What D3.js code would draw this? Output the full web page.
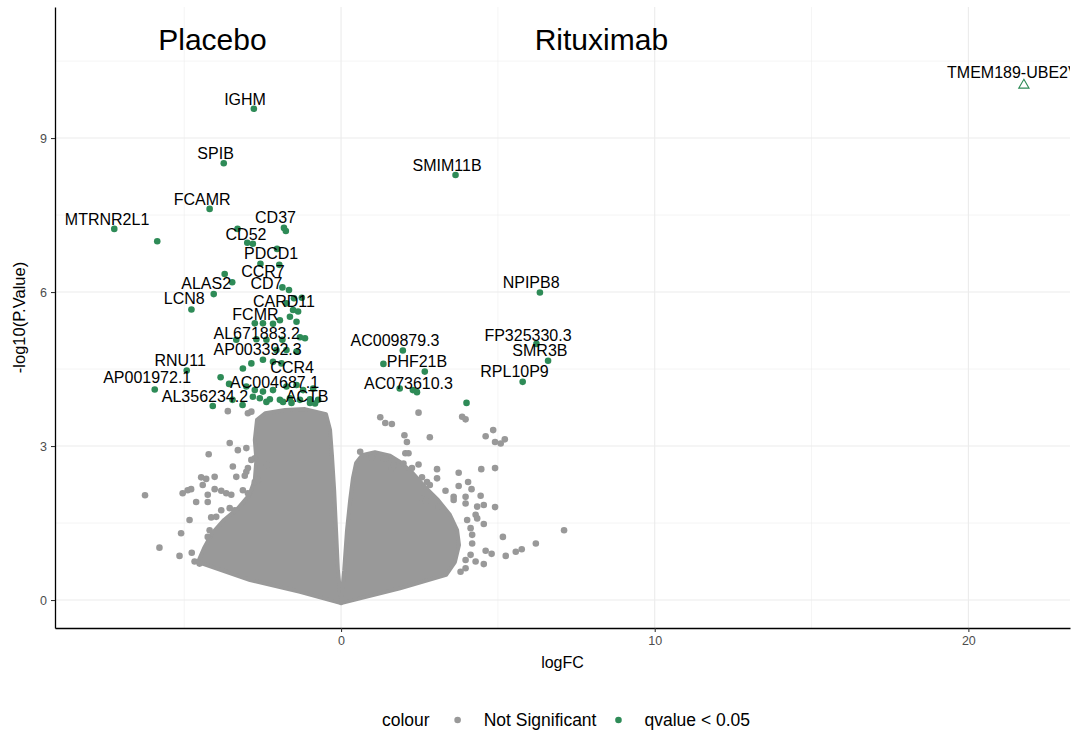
<!DOCTYPE html>
<html>
<head>
<meta charset="utf-8">
<script src="https://cdn.jsdelivr.net/npm/d3@7"></script>
<style>
  html, body { margin: 0; padding: 0; background: #ffffff; }
  svg { display: block; font-family: "Liberation Sans", Arial, Helvetica, sans-serif; }
</style>
</head>
<body>
<svg id="chart" width="1076" height="734"></svg>
<script>
// ---- axis ticks ----
const xTicks = [0, 10, 20];
const yTicks = [0, 3, 6, 9];
const xMinorTicks = [-5, 5, 15];
const yMinorTicks = [1.5, 4.5, 7.5, 10.5];

// ---- legend groups ----
const groupNames = ["Not Significant", "qvalue < 0.05"];
const groupColours = ["#999999", "#2E8B57"];

// ---- panel annotations: [text, logFC, -log10 p] ----
const armTitles = [["Placebo", -4.1, 11], ["Rituximab", 8.3, 11]];

// ---- significant, labelled genes: [gene, logFC, -log10 p] ----
const labelledGenes = [
  ["IGHM", -2.78, 9.57], ["SPIB", -3.74, 8.51], ["FCAMR", -4.19, 7.62],
  ["MTRNR2L1", -7.23, 7.23], ["CD37", -1.82, 7.25], ["CD52", -3.30, 7.23],
  ["PDCD1", -2.04, 6.84], ["CCR7", -1.97, 6.53], ["CD7", -1.87, 6.09],
  ["ALAS2", -3.47, 6.19], ["LCN8", -4.77, 5.66], ["CARD11", -1.25, 5.89],
  ["FCMR", -2.49, 5.39], ["AL671883.2", -2.38, 5.07], ["AP003392.3", -2.06, 4.87],
  ["RNU11", -4.92, 4.47], ["CCR4", -1.74, 4.16], ["AP001972.1", -5.94, 4.10],
  ["AC004687.1", -2.17, 4.09], ["AL356234.2", -4.09, 3.78], ["ACTB", -0.83, 3.83],
  ["SMIM11B", 3.65, 8.28], ["NPIPB8", 6.34, 5.99], ["FP325330.3", 6.23, 4.99],
  ["SMR3B", 6.60, 4.66], ["RPL10P9", 5.79, 4.25], ["AC009879.3", 1.97, 4.86],
  ["PHF21B", 2.67, 4.45], ["AC073610.3", 1.87, 4.12]
];

// repelled label anchors (text centre logFC, baseline -log10 p), same order
const labelAnchors = [
  [-3.06, 9.64], [-4.00, 8.59], [-4.43, 7.69],
  [-7.46, 7.31], [-2.09, 7.34], [-3.03, 7.01],
  [-2.23, 6.64], [-2.49, 6.30], [-2.38, 6.05],
  [-4.30, 6.05], [-5.00, 5.76], [-1.82, 5.71],
  [-2.73, 5.45], [-2.69, 5.08], [-2.66, 4.77],
  [-5.13, 4.55], [-1.56, 4.42], [-6.18, 4.22],
  [-2.12, 4.14], [-4.34, 3.86], [-1.08, 3.86],
  [3.38, 8.36], [6.06, 6.07], [5.96, 5.05],
  [6.34, 4.75], [5.53, 4.34], [1.72, 4.95],
  [2.42, 4.53], [2.15, 4.12]
];

// gene whose value lies beyond the usual range, drawn as an open triangle
const cappedGenes = [["TMEM189-UBE2V1", 21.77, 10.03]];
const cappedAnchors = [[21.56, 10.17]];

// ---- significant genes without a label: [logFC, -log10 p] ----
const sigUnlabelled = [
  [-5.86, 6.99], [-1.76, 7.19], [-2.99, 6.96], [-2.81, 6.94], [-2.57, 6.55],
  [-3.71, 6.35], [-4.06, 5.96], [-1.74, 5.78], [-1.53, 5.65], [-1.37, 5.62],
  [-1.63, 5.52], [-1.42, 5.42], [-2.75, 5.39], [-2.17, 5.38], [-1.95, 5.45],
  [-3.34, 5.07], [-2.70, 5.08], [-1.87, 5.07], [-1.31, 5.12], [-1.15, 5.10],
  [-1.74, 4.87], [-1.42, 4.84], [-2.49, 4.68], [-2.17, 4.64], [-1.90, 4.61],
  [-2.86, 4.61], [-3.13, 4.51], [-3.84, 4.34], [-3.57, 4.21], [-3.02, 4.16],
  [-2.75, 4.09], [-2.49, 4.06], [-1.42, 4.19], [-1.21, 4.09], [-0.89, 4.12],
  [-2.81, 3.96], [-2.59, 3.93], [-2.27, 3.91], [-1.95, 3.90], [-1.63, 3.93],
  [-1.31, 3.90], [-0.99, 3.91], [-0.73, 3.90], [-3.46, 3.90], [-3.14, 3.80],
  [-2.38, 3.86], [-1.85, 3.86], [-1.58, 3.84], [-0.99, 3.84], [-1.50, 5.88],
  [-1.66, 6.04], [1.35, 4.60], [2.29, 4.09], [2.42, 4.05], [4.00, 3.84]
];

// ---- dense body of non-significant genes, outlined as [logFC, -log10 p] ----
const nsCoreDown = [
  [0.00, -0.06], [-0.10, 0.58], [-0.16, 1.36], [-0.22, 2.14], [-0.29, 2.82],
  [-0.35, 3.31], [-0.48, 3.62], [-1.15, 3.72], [-1.79, 3.70], [-2.42, 3.64],
  [-2.68, 3.51], [-2.75, 3.12], [-2.70, 2.73], [-2.75, 2.34], [-2.92, 2.05],
  [-3.28, 1.79], [-3.73, 1.56], [-4.11, 1.30], [-4.37, 1.01], [-4.56, 0.74],
  [-2.90, 0.39], [-1.31, 0.16]
];
const nsCoreUp = [
  [0.00, -0.06], [0.10, 0.58], [0.19, 1.36], [0.29, 1.95], [0.38, 2.38],
  [0.48, 2.67], [0.67, 2.82], [1.08, 2.88], [1.56, 2.81], [1.88, 2.69],
  [2.26, 2.49], [2.68, 2.20], [3.09, 1.95], [3.47, 1.66], [3.70, 1.36],
  [3.76, 1.07], [3.63, 0.74], [3.35, 0.49], [1.88, 0.23]
];

// ---- scattered non-significant genes: [logFC, -log10 p] ----
const nsScattered = [
  [-3.61, 3.68], [-2.97, 3.64], [-2.86, 3.67], [-3.55, 3.06], [-3.29, 2.92],
  [-3.02, 2.96], [-4.22, 2.84], [-2.75, 2.76], [-2.86, 2.73], [-2.38, 2.63],
  [-2.97, 2.57], [-3.02, 2.50], [-3.45, 2.60], [-4.46, 2.39], [-4.30, 2.36],
  [-4.03, 2.40], [-3.34, 2.40], [-3.07, 2.42], [-2.75, 2.30], [-2.65, 2.34],
  [-4.41, 2.24], [-4.03, 2.16], [-3.82, 2.13], [-3.66, 2.08], [-3.50, 2.05],
  [-5.05, 2.08], [-4.89, 2.14], [-4.78, 2.16], [-6.25, 2.04], [-4.62, 1.91],
  [-4.25, 2.05], [-4.25, 1.91], [-3.13, 2.14], [-2.97, 2.08], [-3.82, 1.75],
  [-3.55, 1.79], [-3.39, 1.75], [-4.83, 1.56], [-4.14, 1.61], [-3.98, 1.62],
  [-5.10, 1.30], [-4.19, 1.36], [-4.25, 1.23], [-5.79, 1.02], [-5.15, 0.86],
  [-4.76, 0.92], [-4.67, 0.75], [-4.51, 0.71],
  [1.25, 3.56], [1.41, 3.45], [1.62, 3.43], [2.47, 3.65], [3.86, 3.57],
  [3.97, 3.52], [2.02, 3.21], [2.10, 3.08], [2.83, 3.17], [4.61, 3.19],
  [4.85, 3.31], [4.91, 3.08], [5.09, 3.05], [5.22, 3.13], [0.61, 2.89],
  [0.98, 2.78], [1.35, 2.76], [1.41, 2.75], [2.05, 2.86], [2.15, 2.86],
  [1.99, 2.66], [2.26, 2.57], [2.47, 2.64], [1.62, 2.57], [1.67, 2.63],
  [3.06, 2.55], [3.06, 2.37], [3.75, 2.48], [4.47, 2.55], [4.91, 2.57],
  [2.58, 2.39], [2.74, 2.30], [2.83, 2.24], [4.05, 2.30], [4.16, 2.16],
  [3.75, 2.22], [3.33, 2.13], [3.59, 2.01], [3.59, 1.95], [2.58, 1.98],
  [2.69, 1.93], [3.97, 2.01], [3.97, 1.88], [4.45, 2.03], [4.34, 1.82],
  [4.55, 1.85], [4.91, 1.81], [3.11, 1.82], [4.29, 1.66], [4.34, 1.59],
  [4.55, 1.48], [4.02, 1.56], [4.13, 1.40], [7.11, 1.36], [5.16, 1.23],
  [6.21, 1.10], [4.18, 1.27], [4.18, 1.10], [4.61, 0.96], [4.80, 0.90],
  [5.76, 0.99], [5.57, 0.94], [5.25, 0.86], [4.13, 0.88], [3.97, 0.78],
  [4.29, 0.75], [4.55, 0.70], [3.97, 0.62], [3.81, 0.55]
];

// ---- layout ----
const W = 1076, H = 734;
const panel = { left: 55, right: 1070, top: 7, bottom: 628 };
const svg = d3.select("#chart");

const x = d3.scaleLinear().domain([-9.12, 23.24]).range([panel.left, panel.right]);
const y = d3.scaleLinear().domain([-0.545, 11.553]).range([panel.bottom, panel.top]);
const colour = d3.scaleOrdinal().domain(groupNames).range(groupColours);

svg.append("rect").attr("width", W).attr("height", H).attr("fill", "#ffffff");

svg.append("defs").append("clipPath").attr("id", "panel-clip")
  .append("rect")
  .attr("x", panel.left).attr("y", panel.top)
  .attr("width", panel.right - panel.left).attr("height", panel.bottom - panel.top);

// grid
const grid = svg.append("g").attr("class", "grid");
grid.selectAll("line.xminor").data(xMinorTicks).join("line")
  .attr("x1", d => x(d)).attr("x2", d => x(d))
  .attr("y1", panel.top).attr("y2", panel.bottom)
  .attr("stroke", "#ebebeb").attr("stroke-width", 0.55);
grid.selectAll("line.yminor").data(yMinorTicks).join("line")
  .attr("y1", d => y(d)).attr("y2", d => y(d))
  .attr("x1", panel.left).attr("x2", panel.right)
  .attr("stroke", "#ebebeb").attr("stroke-width", 0.55);
grid.selectAll("line.xmajor").data(xTicks).join("line")
  .attr("x1", d => x(d)).attr("x2", d => x(d))
  .attr("y1", panel.top).attr("y2", panel.bottom)
  .attr("stroke", "#ebebeb").attr("stroke-width", 1.07);
grid.selectAll("line.ymajor").data(yTicks).join("line")
  .attr("y1", d => y(d)).attr("y2", d => y(d))
  .attr("x1", panel.left).attr("x2", panel.right)
  .attr("stroke", "#ebebeb").attr("stroke-width", 1.07);

const plot = svg.append("g").attr("clip-path", "url(#panel-clip)");

// dense non-significant body
const outline = d3.line().x(d => x(d[0])).y(d => y(d[1])).curve(d3.curveLinearClosed);
plot.selectAll("path.core").data([nsCoreDown, nsCoreUp]).join("path")
  .attr("class", "core")
  .attr("d", outline)
  .attr("fill", colour(groupNames[0]))
  .attr("stroke", colour(groupNames[0]))
  .attr("stroke-width", 4)
  .attr("stroke-linejoin", "round");

const R = 3.3;
plot.selectAll("circle.ns").data(nsScattered).join("circle")
  .attr("class", "ns")
  .attr("cx", d => x(d[0])).attr("cy", d => y(d[1])).attr("r", R)
  .attr("fill", colour(groupNames[0]));

plot.selectAll("circle.sig").data(sigUnlabelled).join("circle")
  .attr("class", "sig")
  .attr("cx", d => x(d[0])).attr("cy", d => y(d[1])).attr("r", R)
  .attr("fill", colour(groupNames[1]));

plot.selectAll("circle.sigl").data(labelledGenes).join("circle")
  .attr("class", "sigl")
  .attr("cx", d => x(d[1])).attr("cy", d => y(d[2])).attr("r", R)
  .attr("fill", colour(groupNames[1]));

const tri = d3.symbol().type(d3.symbolTriangle).size(46);
plot.selectAll("path.capped").data(cappedGenes).join("path")
  .attr("class", "capped")
  .attr("transform", d => `translate(${x(d[1])},${y(d[2])})`)
  .attr("d", tri)
  .attr("fill", "none")
  .attr("stroke", colour(groupNames[1]))
  .attr("stroke-width", 1.1);

// gene labels
const labelSize = "16px";
plot.selectAll("text.gene").data(labelledGenes).join("text")
  .attr("class", "gene")
  .attr("x", (d, i) => x(labelAnchors[i][0]))
  .attr("y", (d, i) => y(labelAnchors[i][1]))
  .attr("text-anchor", "middle")
  .attr("font-size", labelSize)
  .attr("fill", "#000000")
  .text(d => d[0]);
plot.selectAll("text.capped").data(cappedGenes).join("text")
  .attr("class", "capped")
  .attr("x", (d, i) => x(cappedAnchors[i][0]))
  .attr("y", (d, i) => y(cappedAnchors[i][1]))
  .attr("text-anchor", "middle")
  .attr("font-size", labelSize)
  .attr("fill", "#000000")
  .text(d => d[0]);

// arm titles
plot.selectAll("text.arm").data(armTitles).join("text")
  .attr("class", "arm")
  .attr("x", d => x(d[1])).attr("y", d => y(d[2]))
  .attr("dy", "0.48em")
  .attr("text-anchor", "middle")
  .attr("font-size", "30px")
  .attr("fill", "#000000")
  .text(d => d[0]);

// axes
const xAxis = d3.axisBottom(x).tickValues(xTicks).tickSize(4).tickSizeOuter(0).tickPadding(4);
const yAxis = d3.axisLeft(y).tickValues(yTicks).tickSize(4).tickSizeOuter(0).tickPadding(4);

const gx = svg.append("g").attr("transform", `translate(0,${panel.bottom})`).call(xAxis);
const gy = svg.append("g").attr("transform", `translate(${panel.left},0)`).call(yAxis);
[gx, gy].forEach(g => {
  g.select(".domain").attr("stroke", "#000000").attr("stroke-width", 1.3);
  g.selectAll(".tick line").attr("stroke", "#333333").attr("stroke-width", 1.07);
  g.selectAll(".tick text").attr("fill", "#4d4d4d").attr("font-size", "12.5px")
    .attr("font-family", "Liberation Sans, Arial, sans-serif");
});

// axis titles
svg.append("text")
  .attr("x", (panel.left + panel.right) / 2).attr("y", 668)
  .attr("text-anchor", "middle").attr("font-size", "16px").attr("fill", "#000000")
  .text("logFC");
svg.append("text")
  .attr("transform", `translate(25,${(panel.top + panel.bottom) / 2}) rotate(-90)`)
  .attr("text-anchor", "middle").attr("font-size", "16.5px").attr("fill", "#000000")
  .text("-log10(P.Value)");

// legend
const legend = svg.append("g");
const legendSize = "17.5px";
const baseY = 726;
let cursor = 0;
const lt = legend.append("text").attr("x", cursor).attr("y", baseY)
  .attr("font-size", legendSize).attr("fill", "#000000").text("colour");
cursor += lt.node().getComputedTextLength() + 28;
groupNames.forEach((g, i) => {
  legend.append("circle").attr("cx", cursor).attr("cy", baseY - 6).attr("r", R)
    .attr("fill", colour(g));
  cursor += 26;
  const t = legend.append("text").attr("x", cursor).attr("y", baseY)
    .attr("font-size", legendSize).attr("fill", "#000000").text(g);
  cursor += t.node().getComputedTextLength() + (i < groupNames.length - 1 ? 22 : 0);
});
legend.attr("transform", `translate(${566 - cursor / 2},0)`);
</script>
</body>
</html>
